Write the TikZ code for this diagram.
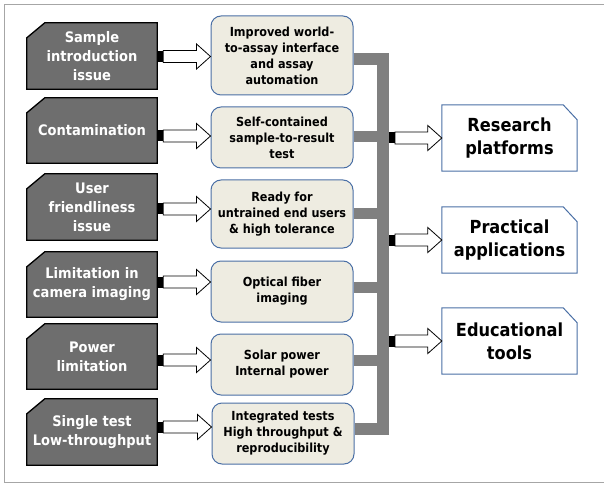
\documentclass[tikz,border=0pt]{standalone}
\usepackage{fontspec}
\setmainfont{DejaVu Sans Condensed}
\usetikzlibrary{backgrounds,calc}
\definecolor{lfill}{HTML}{6E6E6E}
\definecolor{mfill}{HTML}{EEECE1}
\definecolor{bordblue}{HTML}{4A6FA5}
\definecolor{bargray}{HTML}{808080}
\definecolor{framegray}{HTML}{A6A6A6}
\newcommand\blockarrow[2]{%
  \fill let \p1=(#1) in (\x1,\y1-5.5pt) rectangle (\x1+6pt,\y1+5.5pt);
  \draw[arrowline] let \p1=(#1), \p2=(#2) in
    (\x1+6pt,\y1+6pt) -- (\x2-14pt,\y1+6pt) -- (\x2-14pt,\y1+12.5pt) -- (\x2,\y1)
    -- (\x2-14pt,\y1-12.5pt) -- (\x2-14pt,\y1-6pt) -- (\x1+6pt,\y1-6pt) -- cycle;
}
\newcommand\lshape[1]{%
  \filldraw[fill=lfill,draw=black,line width=1.3pt,line join=miter]
    (#1.south west) -- ([yshift=-15pt]#1.north west) -- ([xshift=18pt]#1.north west)
    -- (#1.north east) -- (#1.south east) -- cycle;
}
\newcommand\rshape[1]{%
  \filldraw[fill=white,draw=bordblue,line width=1pt]
    (#1.south west) -- (#1.north west) -- ([xshift=-14pt]#1.north east)
    -- ([yshift=-15pt]#1.north east) -- (#1.south east) -- cycle;
}
\begin{document}
\begin{tikzpicture}[x=1pt,y=-1pt,
  lbox/.style={minimum width=130pt,minimum height=65pt,inner sep=0pt,text=white,
    font=\fontsize{14.5}{19}\selectfont\bfseries,align=center},
  mbox/.style={draw=bordblue,fill=mfill,rounded corners=10pt,line width=1pt,
    minimum width=142pt,inner sep=0pt,font=\fontsize{12.5}{16}\selectfont\bfseries,align=center},
  rbox/.style={minimum width=135pt,minimum height=66pt,inner sep=0pt,
    font=\fontsize{18}{23}\selectfont\bfseries,align=center},
  arrowline/.style={draw=black,fill=white,line width=0.8pt,line join=miter},
  bar/.style={draw=bargray,line width=11.5pt,line join=miter}]
\useasboundingbox (0,0) rectangle (604,486);

% left problem boxes
\node[lbox,minimum height=66pt] (l1) at (92,56) {Sample\\introduction\\issue};
\node[lbox] (l2) at (92,130.5) {Contamination};
\node[lbox,minimum height=66pt] (l3) at (92,207) {User\\friendliness\\issue};
\node[lbox] (l4) at (92,284.5) {Limitation in\\camera imaging};
\node[lbox] (l5) at (92,356.5) {Power\\limitation};
\node[lbox,minimum height=66pt] (l6) at (92,432) {Single test\\Low-throughput};

% middle solution boxes
\node[mbox,minimum height=79pt] (m1) at (282,55.5) {Improved world-\\to-assay interface\\and assay\\automation};
\node[mbox,minimum height=61pt] (m2) at (282,137.5) {Self-contained\\sample-to-result\\test};
\node[mbox,minimum height=68pt] (m3) at (282,214) {Ready for\\untrained end users\\\& high tolerance};
\node[mbox,minimum height=61pt] (m4) at (282,291.5) {Optical fiber\\imaging};
\node[mbox,minimum height=61pt] (m5) at (282,364.5) {Solar power\\Internal power};
\node[mbox,minimum height=61pt] (m6) at (283,433.5) {Integrated tests\\High throughput \&\\reproducibility};

% right outcome boxes
\node[rbox] (r1) at (509.5,138) {Research\\platforms};
\node[rbox] (r2) at (509.5,240) {Practical\\applications};
\node[rbox] (r3) at (509.5,341) {Educational\\tools};

\begin{scope}[on background layer]
  \draw[framegray,line width=0.8pt] (4,4) rectangle (640,482);
  \foreach \n in {l1,l2,l3,l4,l5,l6} {\lshape{\n}}
  \foreach \n in {r1,r2,r3} {\rshape{\n}}
\end{scope}

% gray collector bars
\coordinate (btop) at (383,59);
\coordinate (bbot) at (383,429);
\draw[bar] (m1.east |- btop) -- (btop) -- (bbot) -- (m6.east |- bbot);
\draw[bar] (m2.east |- 0,136.5) -- (383,136.5);
\draw[bar] (m3.east |- 0,213.5) -- (383,213.5);
\draw[bar] (m4.east |- 0,287.5) -- (383,287.5);
\draw[bar] (m5.east |- 0,360.5) -- (383,360.5);

% left arrows
\blockarrow{l1.east |- 0,56.5}{m1.west |- 0,56.5}
\blockarrow{l2.east |- 0,136}{m2.west |- 0,136}
\blockarrow{l3.east |- 0,209}{m3.west |- 0,209}
\blockarrow{l4.east |- 0,282}{m4.west |- 0,282}
\blockarrow{l5.east |- 0,360}{m5.west |- 0,360}
\blockarrow{l6.east |- 0,427}{m6.west |- 0,427}

% right arrows
\coordinate (bx) at (389,0);
\blockarrow{bx |- r1.west}{r1.west}
\blockarrow{bx |- r2.west}{r2.west}
\blockarrow{bx |- r3.west}{r3.west}
\end{tikzpicture}
\end{document}
